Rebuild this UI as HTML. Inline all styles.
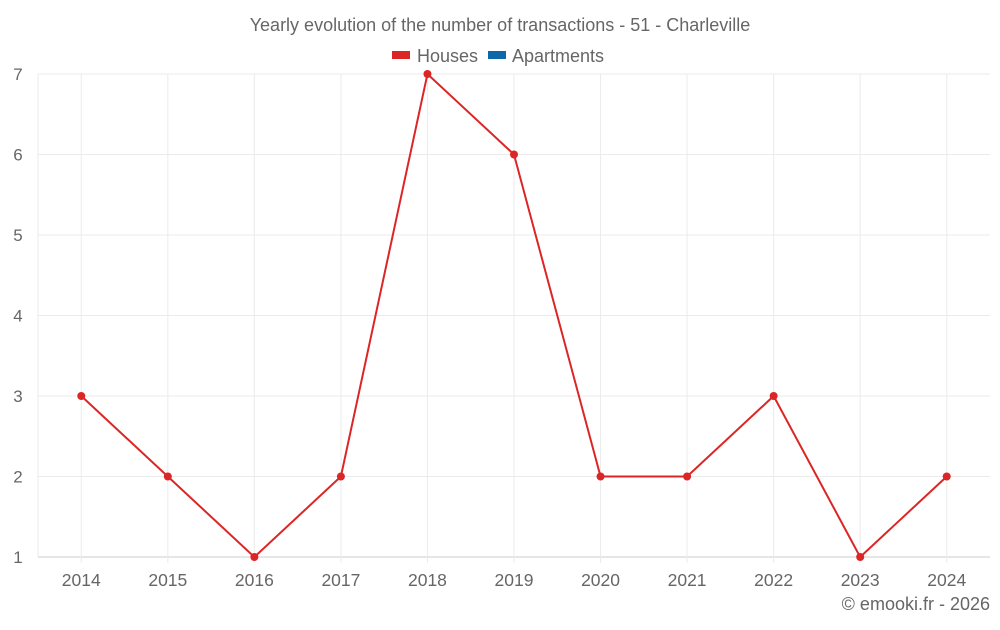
<!DOCTYPE html>
<html><head><meta charset="utf-8"><style>
body{margin:0;background:#fff;font-family:"Liberation Sans",sans-serif}
svg text{font-family:"Liberation Sans",sans-serif;fill:#666}
</style></head><body>
<svg id="c" width="1000" height="625">
<text x="500" y="31" text-anchor="middle" font-size="18">Yearly evolution of the number of transactions - 51 - Charleville</text>
<g>
<rect x="392" y="51" width="18" height="8" fill="#dc2626"/>
<text x="417" y="62" font-size="18">Houses</text>
<rect x="488" y="51" width="18" height="8" fill="#0e67a6"/>
<text x="512" y="62" font-size="18">Apartments</text>
</g>
<g id="grid"></g><g id="axes"></g><g id="series"></g>
<text x="990" y="610" text-anchor="end" font-size="18">© emooki.fr - 2026</text>
</svg>
<script>
const categories=["2014","2015","2016","2017","2018","2019","2020","2021","2022","2023","2024"];
const houses=[3,2,1,2,7,6,2,2,3,1,2];
const yTicks=[1,2,3,4,5,6,7];
const L=38,R=990,T=74,B=557,yMin=1,yMax=7;
const bw=(R-L)/categories.length;
const x=i=>L+bw*(i+0.5);
const y=v=>B-(v-yMin)/(yMax-yMin)*(B-T);
const NS="http://www.w3.org/2000/svg";
function mk(t,a,p){const e=document.createElementNS(NS,t);for(const k in a)e.setAttribute(k,a[k]);p.appendChild(e);return e;}
const g=document.getElementById('grid'),ax=document.getElementById('axes'),s=document.getElementById('series');
yTicks.forEach(v=>{
 const l=mk('line',{x1:L,x2:R,y1:y(v),y2:y(v),stroke:v===yMin?'#ccc':'#ebebeb'},g);
 
 
 const t=mk('text',{x:18,y:y(v)+6,'text-anchor':'middle','font-size':17},ax);t.textContent=v;
 
 
});
const a=mk('line',{x1:L,x2:L,y1:T,y2:B,stroke:'#ebebeb'},g);


categories.forEach((c,i)=>{
 const l=mk('line',{x1:x(i),x2:x(i),y1:T,y2:B+6,stroke:'#ebebeb'},g);
 
 
 const t=mk('text',{x:x(i),y:586,'text-anchor':'middle','font-size':17.5},ax);t.textContent=c;
 
 
});
const p=mk('polyline',{points:houses.map((v,i)=>x(i)+','+y(v)).join(' '),fill:'none',stroke:'#dc2626','stroke-width':2},s);


houses.forEach((v,i)=>{
 const c=mk('circle',{cx:x(i),cy:y(v),r:4,fill:'#dc2626'},s);
 
 
});
</script>
</body></html>
